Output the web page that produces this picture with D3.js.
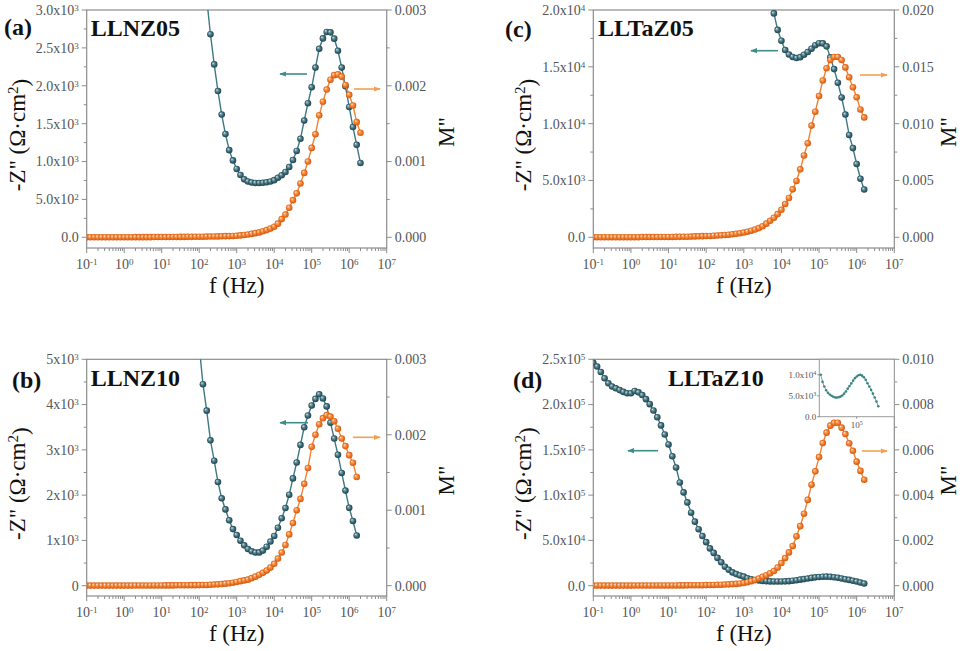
<!DOCTYPE html>
<html lang="en">
<head>
<meta charset="UTF-8">
<title>-Z'' and M'' versus frequency</title>
<style>
  body { margin: 0; background: #fff; }
  svg { display: block; font-family: "Liberation Serif", "Times New Roman", serif; }
  .frame { fill: none; stroke: #8c8c8c; stroke-width: 1.2px; }
  .tk { stroke: #8c8c8c; stroke-width: 1px; }
  .tick-label { fill: #555; font-size: 14px; }
  .axis-title { fill: #111; font-size: 23px; }
  .panel-tag { fill: #111; font-size: 24px; font-weight: bold; }
  .inset-label { fill: #555; font-size: 9px; }
</style>
</head>
<body>
<svg width="964" height="651"></svg>
<script src="https://d3js.org/d3.v7.min.js"></script>
<script>
// frequency grid, log10(f / Hz)
const logF = [-1.0, -0.9, -0.8, -0.7, -0.6, -0.5, -0.4, -0.3, -0.2, -0.1,
  0.0, 0.1, 0.2, 0.3, 0.4, 0.5, 0.6, 0.7, 0.8, 0.9,
  1.0, 1.1, 1.2, 1.3, 1.4, 1.5, 1.6, 1.7, 1.8, 1.9,
  2.0, 2.1, 2.2, 2.3, 2.4, 2.5, 2.6, 2.7, 2.8, 2.9,
  3.0, 3.1, 3.2, 3.3, 3.4, 3.5, 3.6, 3.7, 3.8, 3.9,
  4.0, 4.1, 4.2, 4.3, 4.4, 4.5, 4.6, 4.7, 4.8, 4.9,
  5.0, 5.1, 5.2, 5.3, 5.4, 5.5, 5.6, 5.7, 5.8, 5.9,
  6.0, 6.1, 6.2, 6.3];

// -Z'' (ohm cm2); each list starts at the exponent given in *_from
const zA_from = 2.2;
const zA = [3150, 2680, 2282, 1930, 1620, 1363, 1150, 1015, 902, 822,
  765, 737, 723, 717, 716, 719, 726, 736, 754, 785,
  819, 862, 927, 1020, 1140, 1300, 1540, 1770, 1980, 2240,
  2488, 2625, 2710, 2705, 2622, 2462, 2240, 1993, 1720, 1455,
  1220, 980];
const zB_from = 2.0;
const zB = [5300, 4450, 3866, 3210, 2761, 2290, 1930, 1685, 1445, 1250,
  1119, 994, 891, 810, 760, 733, 735, 775, 860, 975,
  1098, 1280, 1490, 1715, 2010, 2370, 2720, 3110, 3500, 3760,
  3980, 4125, 4227, 4135, 3960, 3600, 3250, 2890, 2490, 2100,
  1720, 1430, 1110];
const zC_from = 3.7;
const zC = [21500, 19700, 18250, 17300, 16480, 16080, 15870, 15770, 15850, 16060,
  16300, 16590, 16900, 17080, 17060, 16800, 15830, 14800, 13600, 12300,
  10800, 9000, 7850, 6450, 5150, 4200];
const zD_from = -1.0;
const zD = [246000, 242000, 236000, 229000, 223500, 220000, 218000, 216000, 214000, 212500,
  212500, 215000, 213500, 210500, 206000, 200500, 193500, 186000, 177000, 167000,
  156000, 143000, 130500, 114000, 103000, 92000, 80600, 70700, 62400, 54800,
  48100, 41200, 36200, 30700, 25900, 21000, 17600, 14700, 12800, 11300,
  10000, 8300, 7200, 6300, 5700, 5300, 5000, 4750, 4600, 4580,
  4640, 4800, 5050, 5500, 6000, 6700, 7300, 7950, 8600, 9200,
  9600, 9900, 10000, 9800, 9400, 8800, 8000, 7200, 6400, 5500,
  4600, 3600, 2500];

// M'' from 10^-1 Hz upward
const mA = [0.000001, 0.000001, 0.000001, 0.000001, 0.000001, 0.000001, 0.000001, 0.000001, 0.000001, 0.000001,
  0.000001, 0.000001, 0.000001, 0.000002, 0.000002, 0.000002, 0.000002, 0.000002, 0.000003, 0.000003,
  0.000003, 0.000003, 0.000004, 0.000004, 0.000004, 0.000005, 0.000005, 0.000006, 0.000006, 0.000007,
  0.000008, 0.000008, 0.000009, 0.00001, 0.000011, 0.000012, 0.000013, 0.000015, 0.000016, 0.000018,
  0.00002, 0.000025, 0.00003, 0.000037, 0.000045, 0.000055, 0.000065, 0.00008, 0.000095, 0.000115,
  0.00014, 0.00018, 0.00024, 0.0003, 0.00039, 0.00049, 0.00058, 0.00071, 0.00085, 0.001,
  0.00118, 0.00136, 0.00161, 0.00179, 0.00195, 0.00208, 0.00214, 0.00215, 0.00212, 0.00201,
  0.00188, 0.00174, 0.00152, 0.00138];
const mB = [0.000001, 0.000001, 0.000001, 0.000001, 0.000001, 0.000001, 0.000001, 0.000001, 0.000001, 0.000001,
  0.000001, 0.000001, 0.000001, 0.000002, 0.000002, 0.000002, 0.000002, 0.000003, 0.000003, 0.000003,
  0.000003, 0.000004, 0.000004, 0.000004, 0.000005, 0.000005, 0.000006, 0.000006, 0.000007, 0.000007,
  0.000008, 0.000009, 0.00001, 0.000012, 0.000015, 0.000018, 0.000022, 0.000027, 0.000033, 0.00004,
  0.00005, 0.00006, 0.00007, 0.00008, 0.0001, 0.00012, 0.000145, 0.00017, 0.0002, 0.00024,
  0.00029, 0.00036, 0.00044, 0.00054, 0.00068, 0.00083, 0.001, 0.00115, 0.00135, 0.00156,
  0.00184, 0.002, 0.00214, 0.00222, 0.00226, 0.00224, 0.00218, 0.00208, 0.00195, 0.00185,
  0.00173, 0.00163, 0.00144];
const mC = [0.00001, 0.00001, 0.00001, 0.00001, 0.00001, 0.00001, 0.00001, 0.00001, 0.00001, 0.00001,
  0.00001, 0.00001, 0.00001, 0.00002, 0.00002, 0.00002, 0.00002, 0.00002, 0.00003, 0.00003,
  0.00003, 0.00003, 0.00004, 0.00004, 0.00005, 0.00005, 0.00006, 0.00008, 0.00009, 0.0001,
  0.00011, 0.00012, 0.00014, 0.00016, 0.00018, 0.0002, 0.00023, 0.00027, 0.00031, 0.00036,
  0.00042, 0.00049, 0.00058, 0.00068, 0.00081, 0.00097, 0.0012, 0.00145, 0.00172, 0.00204,
  0.00242, 0.00293, 0.00346, 0.00422, 0.00496, 0.00598, 0.0072, 0.00827, 0.00983, 0.01105,
  0.01243, 0.0138, 0.01487, 0.0156, 0.01586, 0.01587, 0.0156, 0.01495, 0.01408, 0.0132,
  0.01232, 0.01125, 0.01055];
const mD = [0.000005, 0.000005, 0.000005, 0.000005, 0.000005, 0.000005, 0.000005, 0.000005, 0.000005, 0.000005,
  0.000005, 0.000006, 0.000006, 0.000007, 0.000007, 0.000008, 0.000008, 0.000009, 0.000009, 0.00001,
  0.00001, 0.000011, 0.000012, 0.000013, 0.000014, 0.000015, 0.000017, 0.000019, 0.000021, 0.000023,
  0.000026, 0.00003, 0.000034, 0.000039, 0.000045, 0.000052, 0.00006, 0.00007, 0.00008, 0.0001,
  0.00012, 0.00015, 0.0002, 0.00025, 0.00032, 0.00039, 0.00046, 0.00055, 0.00065, 0.0008,
  0.001, 0.00122, 0.00147, 0.00175, 0.00218, 0.00263, 0.00318, 0.00379, 0.00446, 0.00505,
  0.00568, 0.0063, 0.00676, 0.00707, 0.00719, 0.0072, 0.00698, 0.0067, 0.00629, 0.00596,
  0.00548, 0.00507, 0.00468];

// tick values and labels ([mantissa, exponent])
const xTickExp = [-1, 0, 1, 2, 3, 4, 5, 6, 7];
const zTicksA = [0, 500, 1000, 1500, 2000, 2500, 3000];
const zLabelsA = [["0.0"], ["5.0x10", "2"], ["1.0x10", "3"], ["1.5x10", "3"], ["2.0x10", "3"], ["2.5x10", "3"], ["3.0x10", "3"]];
const zTicksB = [0, 1000, 2000, 3000, 4000, 5000];
const zLabelsB = [["0"], ["1x10", "3"], ["2x10", "3"], ["3x10", "3"], ["4x10", "3"], ["5x10", "3"]];
const zTicksC = [0, 5000, 10000, 15000, 20000];
const zLabelsC = [["0.0"], ["5.0x10", "3"], ["1.0x10", "4"], ["1.5x10", "4"], ["2.0x10", "4"]];
const zTicksD = [0, 50000, 100000, 150000, 200000, 250000];
const zLabelsD = [["0.0"], ["5.0x10", "4"], ["1.0x10", "5"], ["1.5x10", "5"], ["2.0x10", "5"], ["2.5x10", "5"]];
const mTicksAB = [0, 0.001, 0.002, 0.003];
const mLabelsAB = ["0.000", "0.001", "0.002", "0.003"];
const mTicksC = [0, 0.005, 0.010, 0.015, 0.020];
const mLabelsC = ["0.000", "0.005", "0.010", "0.015", "0.020"];
const mTicksD = [0, 0.002, 0.004, 0.006, 0.008, 0.010];
const mLabelsD = ["0.000", "0.002", "0.004", "0.006", "0.008", "0.010"];
const insetTicks = [0, 5000, 10000];
const insetLabels = [["0.0"], ["5.0x10", "3"], ["1.0x10", "4"]];

const panels = [
  { id: "a", tag: "(a)", name: "LLNZ05", left: 86.7, width: 300, top: 10, zero: 237.3, bottom: 248,
    z: zA, zFrom: zA_from, m: mA, zTicks: zTicksA, zLabels: zLabelsA, zMinor: 250,
    mTicks: mTicksAB, mLabels: mLabelsAB, mMinor: 0.0005, mTitleDx: 67,
    tagXY: [4, 35], nameXY: [90.7, 36], zArrow: [307, 280, 74], mArrow: [354, 380, 89] },
  { id: "b", tag: "(b)", name: "LLNZ10", left: 86.7, width: 300, top: 359.3, zero: 585.7, bottom: 596,
    z: zB, zFrom: zB_from, m: mB, zTicks: zTicksB, zLabels: zLabelsB, zMinor: 500,
    mTicks: mTicksAB, mLabels: mLabelsAB, mMinor: 0.0005, mTitleDx: 67,
    tagXY: [12, 388], nameXY: [90.7, 386], zArrow: [308, 280, 422.7], mArrow: [353, 380, 437.3] },
  { id: "c", tag: "(c)", name: "LLTaZ05", left: 593.3, width: 301, top: 10, zero: 237.3, bottom: 248,
    z: zC, zFrom: zC_from, m: mC, zTicks: zTicksC, zLabels: zLabelsC, zMinor: 2500,
    mTicks: mTicksC, mLabels: mLabelsC, mMinor: 0.0025, mTitleDx: 62,
    tagXY: [505, 37], nameXY: [598, 36], zArrow: [778, 751, 50.7], mArrow: [860, 887, 75] },
  { id: "d", tag: "(d)", name: "LLTaZ10", left: 593.3, width: 301, top: 359.3, zero: 585.7, bottom: 596,
    z: zD, zFrom: zD_from, m: mD, zTicks: zTicksD, zLabels: zLabelsD, zMinor: 25000,
    mTicks: mTicksD, mLabels: mLabelsD, mMinor: 0.001, mTitleDx: 62,
    tagXY: [513, 388], nameXY: [668, 386], zArrow: [658, 628, 450.7], mArrow: [862, 887, 451],
    inset: { left: 819.3, right: 894.3, top: 359.3, bottom: 416.7, zMax: 13700, logMin: 2.92, logMax: 7.09, from: 3.0 } }
];

const svg = d3.select("svg");
const defs = svg.append("defs");

function sphere(id, stops) {
  const gr = defs.append("radialGradient").attr("id", id)
    .attr("cx", "50%").attr("cy", "50%").attr("r", "55%")
    .attr("fx", "32%").attr("fy", "30%");
  stops.forEach(s => gr.append("stop").attr("offset", s[0]).attr("stop-color", s[1]));
}
sphere("ballBlue", [[0, "#e2eef0"], [0.25, "#7aa2ac"], [0.62, "#35636f"], [1, "#1d3e48"]]);
sphere("ballOrange", [[0, "#fff2e4"], [0.25, "#f9a766"], [0.62, "#ee7322"], [1, "#c9540f"]]);

function arrowMarker(id, color) {
  defs.append("marker").attr("id", id)
    .attr("viewBox", "0 0 8 8").attr("refX", 7).attr("refY", 4)
    .attr("markerWidth", 7).attr("markerHeight", 7)
    .attr("markerUnits", "userSpaceOnUse").attr("orient", "auto")
    .append("path").attr("d", "M0,1 L8,4 L0,7 Z").attr("fill", color);
}
arrowMarker("arrBlue", "#3f8d8a");
arrowMarker("arrOrange", "#f3a052");

function supText(sel, parts, supSize) {
  sel.text(parts[0]);
  if (parts[1]) sel.append("tspan").attr("dy", "-0.45em").attr("font-size", supSize).text(parts[1]);
}

function drawPanel(p) {
  const g = svg.append("g");
  const right = p.left + p.width;
  const zMax = p.zTicks[p.zTicks.length - 1];
  const mMax = p.mTicks[p.mTicks.length - 1];

  const x = d3.scaleLog().domain([1e-1, 1e7]).range([p.left, right]);
  const yZ = d3.scaleLinear().domain([0, zMax]).range([p.zero, p.top]);
  const yM = d3.scaleLinear().domain([0, mMax]).range([p.zero, p.top]);

  g.append("clipPath").attr("id", "clip-" + p.id)
    .append("rect").attr("x", p.left).attr("y", p.top)
    .attr("width", p.width).attr("height", p.bottom - p.top);

  g.append("rect").attr("class", "frame")
    .attr("x", p.left).attr("y", p.top)
    .attr("width", p.width).attr("height", p.bottom - p.top);

  // bottom axis (log)
  xTickExp.forEach(k => {
    const xp = x(Math.pow(10, k));
    g.append("line").attr("class", "tk").attr("x1", xp).attr("x2", xp)
      .attr("y1", p.bottom).attr("y2", p.bottom + 5);
    supText(g.append("text").attr("class", "tick-label").attr("x", xp).attr("y", p.bottom + 21)
      .attr("text-anchor", "middle"), ["10", String(k)], "9px");
    if (k < 7) {
      for (let mm = 2; mm <= 9; mm++) {
        const xm = x(mm * Math.pow(10, k));
        g.append("line").attr("class", "tk").attr("x1", xm).attr("x2", xm)
          .attr("y1", p.bottom).attr("y2", p.bottom + 3);
      }
    }
  });

  // left axis
  d3.range(0, zMax + p.zMinor / 2, p.zMinor).forEach(v => {
    const major = p.zTicks.some(t => Math.abs(t - v) < p.zMinor / 10);
    g.append("line").attr("class", "tk").attr("x1", p.left - (major ? 5 : 3)).attr("x2", p.left)
      .attr("y1", yZ(v)).attr("y2", yZ(v));
  });
  p.zTicks.forEach((v, i) => {
    supText(g.append("text").attr("class", "tick-label").attr("x", p.left - 8).attr("y", yZ(v))
      .attr("dy", "0.35em").attr("text-anchor", "end"), p.zLabels[i], "9px");
  });

  // right axis
  d3.range(0, mMax + p.mMinor / 2, p.mMinor).forEach(v => {
    const major = p.mTicks.some(t => Math.abs(t - v) < p.mMinor / 10);
    g.append("line").attr("class", "tk").attr("x1", right).attr("x2", right + (major ? 5 : 3))
      .attr("y1", yM(v)).attr("y2", yM(v));
  });
  p.mTicks.forEach((v, i) => {
    g.append("text").attr("class", "tick-label").attr("x", right + 8).attr("y", yM(v))
      .attr("dy", "0.35em").text(p.mLabels[i]);
  });

  // axis titles
  g.append("text").attr("class", "axis-title").attr("x", (p.left + right) / 2).attr("y", p.bottom + 45)
    .attr("text-anchor", "middle").text("f (Hz)");
  const yt = g.append("text").attr("class", "axis-title").attr("text-anchor", "middle")
    .attr("transform", `translate(${p.left - 62},${(p.top + p.bottom) / 2 + 6}) rotate(-90)`)
    .text('-Z" (\u03A9\u00B7cm');
  yt.append("tspan").attr("dy", "-0.45em").attr("font-size", "15px").text("2");
  yt.append("tspan").attr("dy", "0.45em").text(")");
  g.append("text").attr("class", "axis-title").attr("text-anchor", "middle")
    .attr("transform", `translate(${right + p.mTitleDx},${(p.top + p.bottom) / 2 + 3}) rotate(-90)`)
    .text('M"');

  // data
  const i0 = logF.indexOf(p.zFrom);
  const zPts = p.z.map((v, j) => ({ f: Math.pow(10, logF[i0 + j]), v: v }));
  const mPts = p.m.map((v, j) => ({ f: Math.pow(10, logF[j]), v: v }));

  const data = g.append("g").attr("clip-path", `url(#clip-${p.id})`);
  data.append("path").datum(zPts)
    .attr("d", d3.line().x(d => x(d.f)).y(d => yZ(d.v)))
    .attr("fill", "none").attr("stroke", "#3e7883").attr("stroke-width", 1.4);
  data.selectAll(".zpt").data(zPts.filter(d => d.v <= zMax)).enter().append("circle")
    .attr("class", "zpt").attr("cx", d => x(d.f)).attr("cy", d => yZ(d.v))
    .attr("r", 3.3).attr("fill", "url(#ballBlue)");
  data.append("path").datum(mPts)
    .attr("d", d3.line().x(d => x(d.f)).y(d => yM(d.v)))
    .attr("fill", "none").attr("stroke", "#ef8233").attr("stroke-width", 1.4);
  data.selectAll(".mpt").data(mPts).enter().append("circle")
    .attr("class", "mpt").attr("cx", d => x(d.f)).attr("cy", d => yM(d.v))
    .attr("r", 3.3).attr("fill", "url(#ballOrange)");

  // direction arrows
  g.append("line").attr("x1", p.zArrow[0]).attr("x2", p.zArrow[1])
    .attr("y1", p.zArrow[2]).attr("y2", p.zArrow[2])
    .attr("stroke", "#3f8d8a").attr("stroke-width", 1.6).attr("marker-end", "url(#arrBlue)");
  g.append("line").attr("x1", p.mArrow[0]).attr("x2", p.mArrow[1])
    .attr("y1", p.mArrow[2]).attr("y2", p.mArrow[2])
    .attr("stroke", "#f3a052").attr("stroke-width", 1.6).attr("marker-end", "url(#arrOrange)");

  // labels
  g.append("text").attr("class", "panel-tag").attr("x", p.tagXY[0]).attr("y", p.tagXY[1]).text(p.tag);
  g.append("text").attr("class", "panel-tag").attr("x", p.nameXY[0]).attr("y", p.nameXY[1]).text(p.name);

  if (p.inset) drawInset(g, p.inset, zPts, p.id);
}

function drawInset(g, ins, zPts, id) {
  const ix = d3.scaleLog().domain([Math.pow(10, ins.logMin), Math.pow(10, ins.logMax)]).range([ins.left, ins.right]);
  const iy = d3.scaleLinear().domain([0, ins.zMax]).range([ins.bottom, ins.top]);
  const pts = zPts.filter(d => d.f >= Math.pow(10, ins.from) * 0.999);

  g.append("rect").attr("x", ins.left).attr("y", ins.top)
    .attr("width", ins.right - ins.left).attr("height", ins.bottom - ins.top)
    .attr("fill", "#fff").attr("stroke", "#9a9a9a").attr("stroke-width", 1);
  g.append("clipPath").attr("id", "clip-inset-" + id)
    .append("rect").attr("x", ins.left).attr("y", ins.top)
    .attr("width", ins.right - ins.left).attr("height", ins.bottom - ins.top);

  insetTicks.forEach((v, i) => {
    g.append("line").attr("class", "tk").attr("x1", ins.left - 2).attr("x2", ins.left)
      .attr("y1", iy(v)).attr("y2", iy(v));
    supText(g.append("text").attr("class", "inset-label").attr("x", ins.left - 3).attr("y", iy(v))
      .attr("dy", "0.35em").attr("text-anchor", "end"), insetLabels[i], "6px");
  });
  const x5 = ix(1e5);
  g.append("line").attr("class", "tk").attr("x1", x5).attr("x2", x5)
    .attr("y1", ins.bottom).attr("y2", ins.bottom + 2);
  supText(g.append("text").attr("class", "inset-label").attr("x", x5).attr("y", ins.bottom + 11)
    .attr("text-anchor", "middle"), ["10", "5"], "6px");

  const c = g.append("g").attr("clip-path", `url(#clip-inset-${id})`);
  c.append("path").datum(pts)
    .attr("d", d3.line().x(d => ix(d.f)).y(d => iy(d.v)))
    .attr("fill", "none").attr("stroke", "#4b8f8e").attr("stroke-width", 0.8);
  c.selectAll(".ipt").data(pts).enter().append("circle")
    .attr("class", "ipt").attr("cx", d => ix(d.f)).attr("cy", d => iy(d.v))
    .attr("r", 1.3).attr("fill", "#3c8584");
}

panels.forEach(drawPanel);
</script>
</body>
</html>
